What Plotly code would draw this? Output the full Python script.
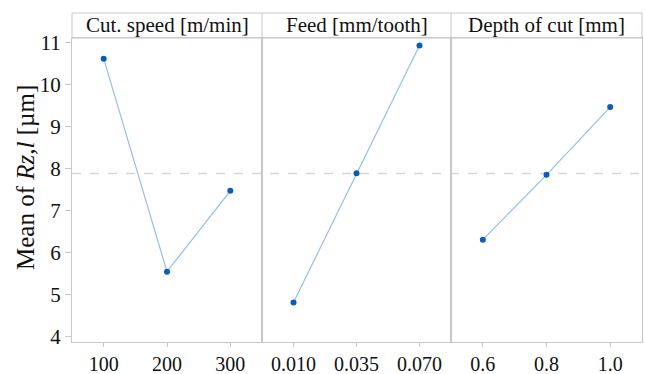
import plotly.graph_objects as go
from plotly.subplots import make_subplots

# Main effects of machining parameters on mean Rz,l
factors = ["Cut. speed [m/min]", "Feed [mm/tooth]", "Depth of cut [mm]"]
speed_levels = ["100", "200", "300"]
speed_means = [10.61, 5.55, 7.47]
feed_levels = ["0.010", "0.035", "0.070"]
feed_means = [4.82, 7.89, 10.92]
depth_levels = ["0.6", "0.8", "1.0"]
depth_means = [6.31, 7.85, 9.46]
grand_mean = 7.88
y_ticks = [4, 5, 6, 7, 8, 9, 10, 11]

W, H = 645, 374
L, R, T, B = 72, 3, 38, 32
plot_w = W - L - R
plot_h = H - T - B
header_h = 25

FONT = "Liberation Serif"
LINE_C = "#93bfea"
MARK_C = "#0b5cb8"
FRAME_C = "#c8c8c8"

fig = make_subplots(rows=1, cols=3, shared_yaxes=True, horizontal_spacing=0)

series = [(speed_levels, speed_means), (feed_levels, feed_means), (depth_levels, depth_means)]
for i, (lv, mv) in enumerate(series, start=1):
    fig.add_trace(go.Scatter(x=lv, y=mv, mode="lines+markers",
                             line=dict(color=LINE_C, width=1.2),
                             marker=dict(color=MARK_C, size=6),
                             showlegend=False), row=1, col=i)

# panel boundaries in pixels
edges = [0, 190, 379, plot_w]
for i in range(3):
    dom = [edges[i] / plot_w, edges[i + 1] / plot_w]
    key = "xaxis" if i == 0 else f"xaxis{i + 1}"
    fig.layout[key].update(
        domain=dom, type="category", range=[-0.5, 2.5], automargin=False,
        showline=True, linecolor=FRAME_C, linewidth=1, mirror=True,
        ticks="outside", ticklen=4, tickcolor=FRAME_C, ticklabelstandoff=0,
        showgrid=False, zeroline=False,
        tickfont=dict(family=FONT, size=20, color="#111111"))

for i in range(3):
    key = "yaxis" if i == 0 else f"yaxis{i + 1}"
    fig.layout[key].update(
        range=[3.88, 11.1], showgrid=False, zeroline=False, automargin=False,
        showline=True, linecolor=FRAME_C, linewidth=1, mirror=True,
        tickvals=y_ticks,
        ticks="outside" if i == 0 else "", ticklen=6, tickcolor=FRAME_C,
        tickfont=dict(family=FONT, size=21, color="#111111"))

y_top = 1 + header_h / plot_h
shapes = [
    # grand mean reference line
    dict(type="line", xref="paper", yref="y", x0=0, x1=1, y0=grand_mean, y1=grand_mean,
         line=dict(color="#d6d6d6", width=1.5, dash="dash"), layer="below"),
    # header strip frame
    dict(type="rect", xref="paper", yref="paper", x0=0, x1=1, y0=1, y1=y_top,
         line=dict(color=FRAME_C, width=1), fillcolor="rgba(0,0,0,0)"),
]
for e in edges[1:-1]:
    shapes.append(dict(type="line", xref="paper", yref="paper", x0=e / plot_w, x1=e / plot_w,
                       y0=1, y1=y_top, line=dict(color=FRAME_C, width=1)))

annotations = []
for i, name in enumerate(factors):
    cx = (edges[i] + edges[i + 1]) / 2 / plot_w
    annotations.append(dict(text=name, x=cx, y=1 + header_h / 2 / plot_h,
                            xref="paper", yref="paper", showarrow=False,
                            xanchor="center", yanchor="middle",
                            font=dict(family=FONT, size=21, color="#111111")))

annotations.append(dict(text="Mean of <i>Rz,l</i> [µm]", textangle=-90,
                        x=(25 - L) / plot_w, y=(H - B - 178) / plot_h,
                        xref="paper", yref="paper", showarrow=False,
                        xanchor="center", yanchor="middle",
                        font=dict(family=FONT, size=25, color="#111111")))

fig.update_layout(width=W, height=H, margin=dict(l=L, r=R, t=T, b=B),
                  paper_bgcolor="white", plot_bgcolor="white",
                  shapes=shapes, annotations=annotations)

fig.write_html("out.html")
